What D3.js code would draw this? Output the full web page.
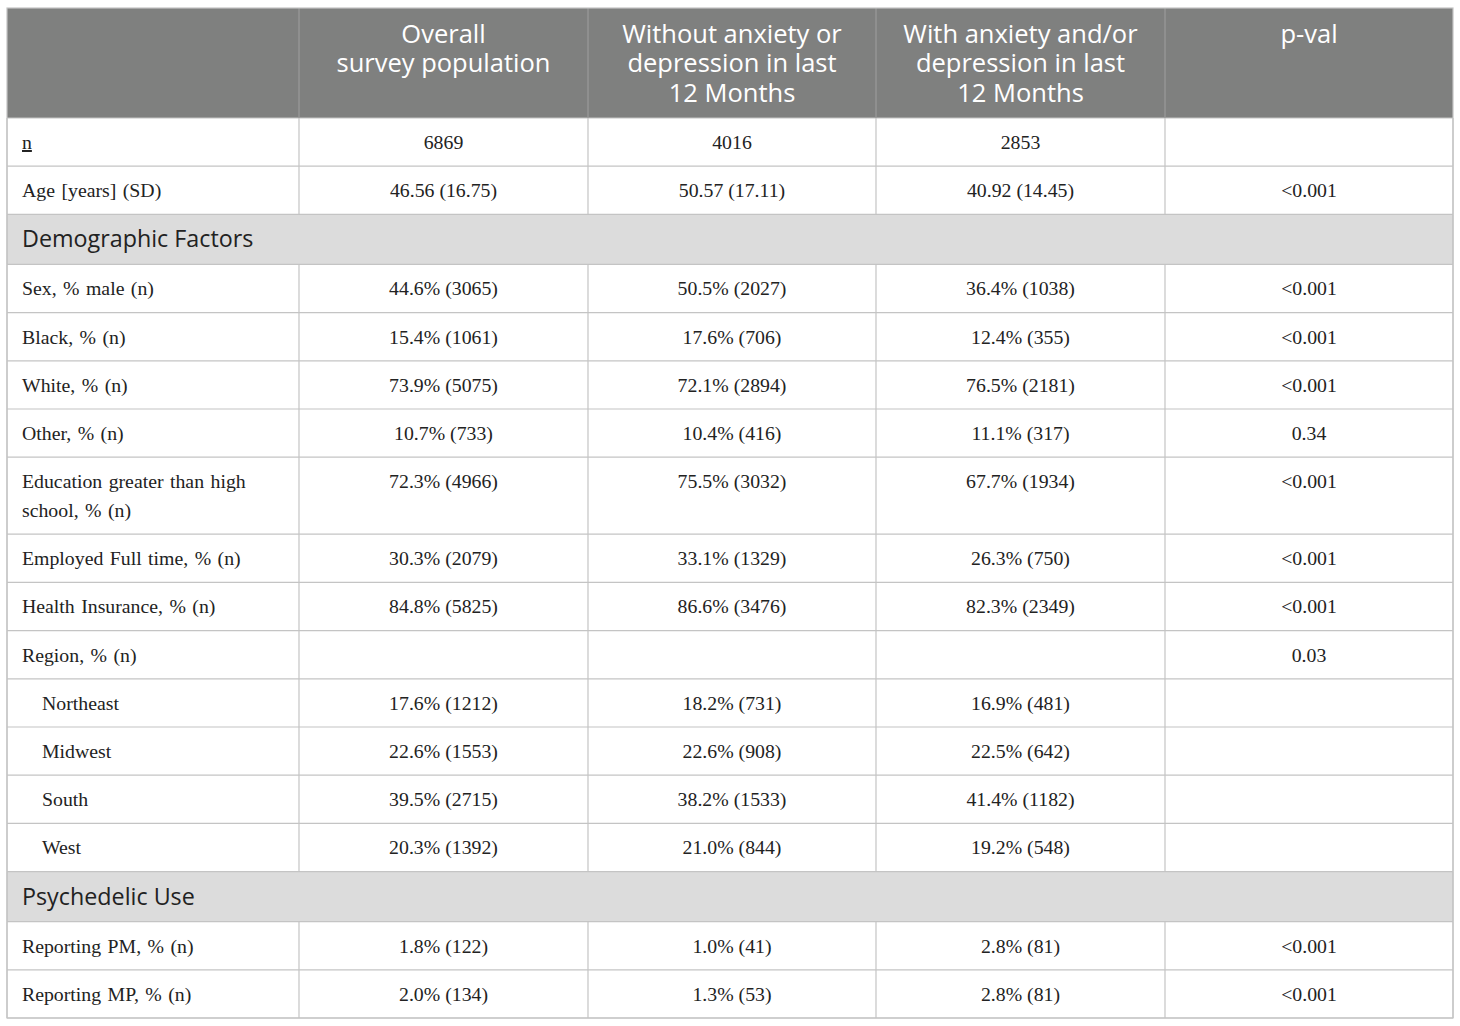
<!DOCTYPE html>
<html lang="en">
<head>
<meta charset="UTF-8">
<title>Survey table</title>
<script src="https://d3js.org/d3.v7.min.js"></script>
<style>
  body { margin: 0; background: #ffffff; overflow: hidden; }
  #table-container { position: absolute; left: 0; top: 0; }
</style>
</head>
<body>
<div id="table-container"></div>
<script>
// column headers (line breaks as in the original)
const headers = [
  [],
  ["Overall", "survey population"],
  ["Without anxiety or", "depression in last", "12 Months"],
  ["With anxiety and/or", "depression in last", "12 Months"],
  ["p-val"]
];

// row labels; "section" rows are grey band headings
const rowLabels = [
  "n", "Age [years] (SD)", "Demographic Factors",
  "Sex, % male (n)", "Black, % (n)", "White, % (n)", "Other, % (n)",
  "Education greater than high|school, % (n)",
  "Employed Full time, % (n)", "Health Insurance, % (n)", "Region, % (n)",
  "Northeast", "Midwest", "South", "West",
  "Psychedelic Use", "Reporting PM, % (n)", "Reporting MP, % (n)"
];
const rowKinds = [
  "row", "row", "section",
  "row", "row", "row", "row", "row", "row", "row", "row",
  "sub", "sub", "sub", "sub",
  "section", "row", "row"
];

const overall = [
  "6869", "46.56 (16.75)", null,
  "44.6% (3065)", "15.4% (1061)", "73.9% (5075)", "10.7% (733)", "72.3% (4966)",
  "30.3% (2079)", "84.8% (5825)", "",
  "17.6% (1212)", "22.6% (1553)", "39.5% (2715)", "20.3% (1392)",
  null, "1.8% (122)", "2.0% (134)"
];
const withoutAD = [
  "4016", "50.57 (17.11)", null,
  "50.5% (2027)", "17.6% (706)", "72.1% (2894)", "10.4% (416)", "75.5% (3032)",
  "33.1% (1329)", "86.6% (3476)", "",
  "18.2% (731)", "22.6% (908)", "38.2% (1533)", "21.0% (844)",
  null, "1.0% (41)", "1.3% (53)"
];
const withAD = [
  "2853", "40.92 (14.45)", null,
  "36.4% (1038)", "12.4% (355)", "76.5% (2181)", "11.1% (317)", "67.7% (1934)",
  "26.3% (750)", "82.3% (2349)", "",
  "16.9% (481)", "22.5% (642)", "41.4% (1182)", "19.2% (548)",
  null, "2.8% (81)", "2.8% (81)"
];
const pvals = [
  "", "<0.001", null,
  "<0.001", "<0.001", "<0.001", "0.34", "<0.001",
  "<0.001", "<0.001", "0.03",
  "", "", "", "",
  null, "<0.001", "<0.001"
];

const width = 1460, height = 1026;
const tLeft = 7, tRight = 1453, tTop = 8, headerH = 110;
const colEdges = [tLeft, 299, 588, 876, 1165, tRight];
const lineH = 28.5;
const bodyFont = "19.8px 'Liberation Serif', 'Times New Roman', serif";
const sansFont = "'Open Sans', 'Noto Sans', sans-serif";

const rows = rowLabels.map((label, i) => {
  const lines = label.split("|");
  const kind = rowKinds[i];
  const h = kind === "section" ? 50 : 48.2 + (lines.length - 1) * 28.8;
  return {
    lines, kind, h,
    cells: [overall[i], withoutAD[i], withAD[i], pvals[i]]
  };
});
let acc = tTop + headerH;
rows.forEach(r => { r.y = acc; acc += r.h; });
const tBottom = acc;

const svg = d3.create("svg")
  .attr("width", width)
  .attr("height", height)
  .attr("viewBox", `0 0 ${width} ${height}`);

// header band
svg.append("rect")
  .attr("x", tLeft).attr("y", tTop)
  .attr("width", tRight - tLeft).attr("height", headerH)
  .attr("fill", "#7f807f");

const colCenter = i => (colEdges[i] + colEdges[i + 1]) / 2;

svg.append("g")
  .selectAll("text")
  .data(headers)
  .join("text")
  .attr("x", (d, i) => colCenter(i))
  .attr("y", tTop + 34.5)
  .attr("text-anchor", "middle")
  .attr("fill", "#ffffff")
  .style("font", "25.5px " + sansFont)
  .selectAll("tspan")
  .data(d => d)
  .join("tspan")
  .attr("x", function () { return d3.select(this.parentNode).attr("x"); })
  .attr("dy", (d, j) => j === 0 ? 0 : 29.5)
  .text(d => d);

// section bands
svg.append("g")
  .selectAll("rect")
  .data(rows.filter(r => r.kind === "section"))
  .join("rect")
  .attr("x", tLeft).attr("y", d => d.y)
  .attr("width", tRight - tLeft).attr("height", d => d.h)
  .attr("fill", "#dcdcdc");

// horizontal grid lines
svg.append("g")
  .selectAll("line")
  .data(rows.map(r => r.y).concat([tBottom]))
  .join("line")
  .attr("x1", tLeft).attr("x2", tRight)
  .attr("y1", d => d).attr("y2", d => d)
  .attr("stroke", "#c4c4c4").attr("stroke-width", 1.2);

// vertical lines in header
svg.append("g")
  .selectAll("line")
  .data(colEdges.slice(1, -1))
  .join("line")
  .attr("x1", d => d).attr("x2", d => d)
  .attr("y1", tTop).attr("y2", tTop + headerH)
  .attr("stroke", "#9a9a9a").attr("stroke-width", 1.2);

// vertical lines in body, broken by section bands
const bodySegments = [];
rows.forEach(r => {
  if (r.kind === "section") return;
  colEdges.forEach(x => bodySegments.push({ x, y1: r.y, y2: r.y + r.h }));
});
rows.filter(r => r.kind === "section").forEach(r => {
  [tLeft, tRight].forEach(x => bodySegments.push({ x, y1: r.y, y2: r.y + r.h }));
});
svg.append("g")
  .selectAll("line")
  .data(bodySegments)
  .join("line")
  .attr("x1", d => d.x).attr("x2", d => d.x)
  .attr("y1", d => d.y1).attr("y2", d => d.y2)
  .attr("stroke", "#c4c4c4").attr("stroke-width", 1.2);

// outer border
svg.append("rect")
  .attr("x", tLeft).attr("y", tTop)
  .attr("width", tRight - tLeft).attr("height", tBottom - tTop)
  .attr("fill", "none")
  .attr("stroke", "#c4c4c4").attr("stroke-width", 1.2);

const body = svg.append("g");

// row labels
rows.forEach((r, i) => {
  if (r.kind === "section") {
    body.append("text")
      .attr("x", 22).attr("y", r.y + 33)
      .attr("fill", "#222")
      .style("font", "23.3px " + sansFont)
      .text(r.lines[0]);
    return;
  }
  const xLab = r.kind === "sub" ? 42 : 22;
  const t = body.append("text")
    .attr("x", xLab)
    .attr("y", r.y + 31)
    .attr("fill", "#222")
    .style("font", bodyFont)
    .style("word-spacing", "1.5px");
  r.lines.forEach((l, j) => {
    t.append("tspan")
      .attr("x", xLab)
      .attr("dy", j === 0 ? 0 : lineH)
      .text(l);
  });
  if (i === 0) t.attr("text-decoration", "underline");
});

// value cells
rows.forEach(r => {
  if (r.kind === "section") return;
  body.append("g")
    .selectAll("text")
    .data(r.cells)
    .join("text")
    .attr("x", (d, j) => colCenter(j + 1))
    .attr("y", r.y + 31)
    .attr("text-anchor", "middle")
    .attr("fill", "#222")
    .style("font", bodyFont)
    .text(d => d);
});

document.getElementById("table-container").appendChild(svg.node());
</script>
</body>
</html>
